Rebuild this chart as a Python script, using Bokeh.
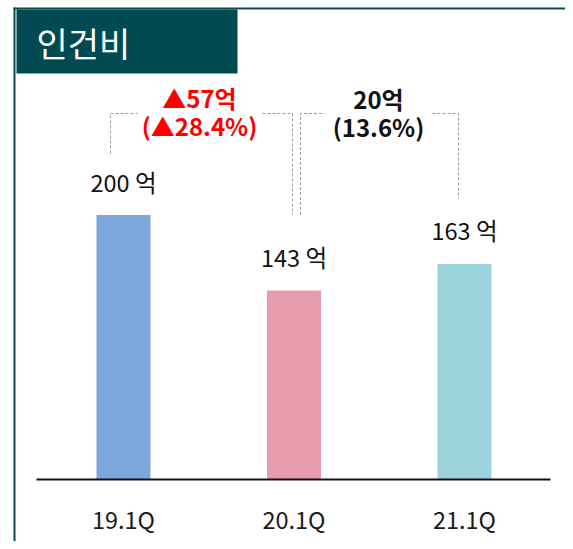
from bokeh.plotting import figure
from bokeh.models import Range1d, ColumnDataSource
from bokeh.core.properties import value
from bokeh.embed import file_html
from bokeh.resources import INLINE

# ---- data ----
categories = ["19.1Q", "20.1Q", "21.1Q"]
values = [200, 143, 163]
value_labels = ["200 억", "143 억", "163 억"]
bar_colors = ["#7ea7dd", "#e89bac", "#9bd3dc"]
title_text = "인건비"
change1 = ["▲57억", "(▲28.4%)"]
change2 = ["20억", "(13.6%)"]

# ---- layout helpers (picture pixel -> data) ----
W, H = 565, 541
OFF = 0
X0, DX = 123.0, 170.5       # pixel x of category 0, spacing
Y0, SY = 479.0, 1.3224      # pixel y of value 0, px per unit

def px(page_x):
    return (page_x - X0) / DX

def py(page_y):
    return (Y0 - page_y) / SY

FONT = value("Noto Sans CJK KR")

p = figure(width=W, height=H, output_backend="svg", toolbar_location=None,
           x_range=Range1d(px(OFF), px(OFF + W)), y_range=Range1d(py(OFF + H), py(OFF)),
           x_axis_location=None, y_axis_location=None, min_border=0)
p.outline_line_color = None
p.grid.visible = False
p.background_fill_color = "white"
p.border_fill_color = "white"

# frame borders (top and left)
p.quad(left=px(13), right=px(OFF + W), top=py(7), bottom=py(9),
       fill_color="#0b4a50", line_color=None)
p.quad(left=px(13), right=px(15), top=py(7), bottom=py(OFF + H),
       fill_color="#0b4a50", line_color=None)

# title box
p.quad(left=px(16), right=px(237), top=py(9), bottom=py(73),
       fill_color="#024a51", line_color=None)
p.text(x=[px(36)], y=[py(42)], text=[title_text], text_color="white",
       text_font=FONT, text_font_size="34px", text_align="left", text_baseline="middle")

# bars
xs = list(range(len(categories)))
src = ColumnDataSource(dict(x=xs, top=values, color=bar_colors, lab=value_labels,
                            cat=categories, zero=[0] * len(categories)))
p.vbar(x="x", top="top", bottom=0, width=54 / DX, fill_color="color", line_color=None, source=src)

# baseline
p.line(x=[px(36), px(550)], y=[0, 0], line_color="#111111", line_width=2)

# value labels
p.text(x="x", y="top", text="lab", source=src, text_font=FONT, text_font_size="23.5px",
       text_color="#111111", text_align="center", text_baseline="middle", y_offset=-33.5)

# category labels
p.text(x="x", y="zero", text="cat", source=src, text_font=FONT, text_font_size="23.5px",
       text_color="#1a1a1a", text_align="center", text_baseline="middle", y_offset=39)

# dashed brackets
dash_xs = [
    [px(110), px(110), px(137)],
    [px(262), px(292), px(292)],
    [px(300), px(300), px(324)],
    [px(432), px(458), px(458)],
]
dash_ys = [
    [py(153), py(113), py(113)],
    [py(113), py(113), values[0]],
    [values[0], py(113), py(113)],
    [py(113), py(113), py(198)],
]
p.multi_line(xs=dash_xs, ys=dash_ys, line_color="#999999", line_width=1, line_dash="3 2")

# change annotations
p.text(x=[px(199), px(199)], y=[py(97), py(125)], text=change1, text_color="#ff0000",
       text_font=FONT, text_font_size="24px", text_font_style="bold",
       text_align="center", text_baseline="middle")
p.text(x=[px(378), px(378)], y=[py(98), py(126)], text=change2, text_color="#111111",
       text_font=FONT, text_font_size="24px", text_font_style="bold",
       text_align="center", text_baseline="middle")

open("out.html", "w").write(file_html(p, INLINE))
